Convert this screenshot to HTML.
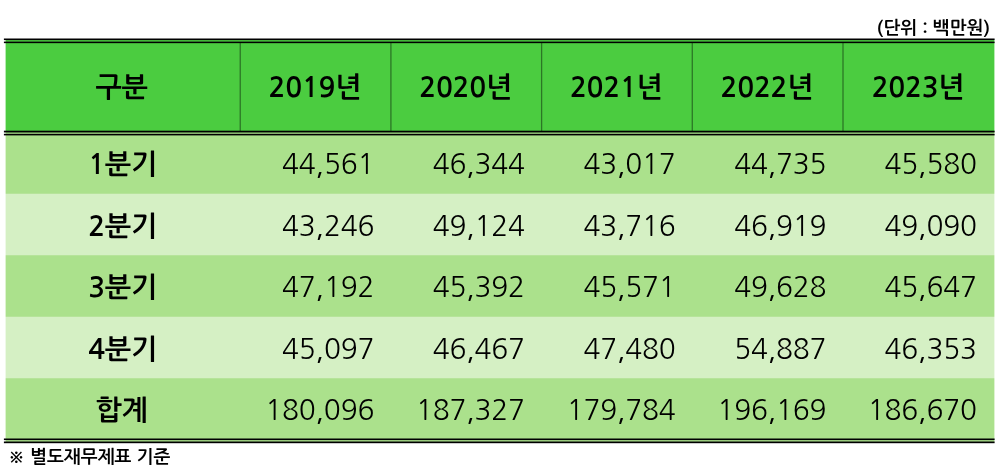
<!DOCTYPE html>
<html lang="ko">
<head>
<meta charset="utf-8">
<title>분기별 실적 (별도재무제표 기준)</title>
<style>
html,body{margin:0;padding:0;background:#fff;}
body{width:1000px;height:473px;position:relative;overflow:hidden;
 font-family:"NanumGothic","Noto Sans CJK KR","Liberation Sans",sans-serif;color:#000;}
svg.bg{position:absolute;left:0;top:0;width:1000px;height:473px;display:block;}
.txt{position:absolute;left:0;top:0;width:1000px;height:473px;will-change:transform;}
.unit{position:absolute;right:10px;top:16px;font-size:18px;font-weight:700;line-height:24px;white-space:nowrap;}
.note{position:absolute;left:8px;top:445px;font-size:18px;font-weight:700;line-height:24px;white-space:nowrap;}
table{position:absolute;left:5.6px;top:41px;width:988.8px;border-collapse:collapse;border-spacing:0;table-layout:fixed;
 font-size:28px;line-height:40px;white-space:nowrap;}
th,td{padding:0;margin:0;border:0;vertical-align:middle;overflow:visible;}
thead th{height:91.25px;font-weight:700;text-align:center;letter-spacing:-0.3px;padding-right:1.3px;}
thead th:first-child{padding-right:2.7px;}
tbody th{font-weight:700;text-align:center;letter-spacing:-0.3px;padding-top:2px;padding-right:0.7px;}
tbody tr:last-child th{padding-right:2.7px;}
tbody td{height:59.5px;font-weight:400;text-align:right;letter-spacing:-0.2px;padding-top:2px;padding-right:16.7px;}
tbody td:last-child{padding-right:17.7px;}
</style>
</head>
<body>
<svg class="bg" width="1000" height="473" viewBox="0 0 1000 473" aria-hidden="true">
<rect x="0" y="30" width="1000" height="420" fill="#abe18c"/>
<rect x="0" y="30" width="1000" height="102.25" fill="#4bcc40"/>
<rect x="0" y="193.75" width="1000" height="61.50" fill="#d5f0c4"/>
<rect x="0" y="316.75" width="1000" height="61.50" fill="#d5f0c4"/>
<rect x="0" y="0" width="1000" height="39.6" fill="#fff"/>
<rect x="0" y="442.4" width="1000" height="30.60" fill="#fff"/>
<rect x="0" y="0" width="5.6" height="473" fill="#fff"/>
<rect x="994.4" y="0" width="5.60" height="473" fill="#fff"/>
<rect x="239.59" y="43" width="1.3" height="88" fill="#000" fill-opacity="0.42"/>
<rect x="390.25" y="43" width="1.3" height="88" fill="#000" fill-opacity="0.42"/>
<rect x="540.95" y="43" width="1.3" height="88" fill="#000" fill-opacity="0.42"/>
<rect x="691.63" y="43" width="1.3" height="88" fill="#000" fill-opacity="0.42"/>
<rect x="842.35" y="43" width="1.3" height="88" fill="#000" fill-opacity="0.42"/>
<rect x="3.9" y="38.5" width="990.70" height="1.6" fill="#000"/>
<rect x="3.9" y="41.6" width="990.70" height="1.55" fill="#000"/>
<rect x="3.9" y="130.7" width="990.70" height="1.75" fill="#000"/>
<rect x="3.9" y="133.8" width="990.70" height="1.6" fill="#000"/>
<rect x="3.9" y="438.5" width="990.70" height="1.6" fill="#000"/>
<rect x="3.9" y="441.5" width="990.70" height="1.7" fill="#000"/>
</svg>
<div class="txt">
<div class="unit">(단위 : 백만원)</div>
<table>
<colgroup><col style="width:234.64px"><col style="width:150.66px"><col style="width:150.70px"><col style="width:150.68px"><col style="width:150.72px"><col style="width:151.40px"></colgroup>
<thead><tr><th scope="col">구분</th><th scope="col">2019년</th><th scope="col">2020년</th><th scope="col">2021년</th><th scope="col">2022년</th><th scope="col">2023년</th></tr></thead>
<tbody>
<tr><th scope="row">1분기</th><td>44,561</td><td>46,344</td><td>43,017</td><td>44,735</td><td>45,580</td></tr>
<tr><th scope="row">2분기</th><td>43,246</td><td>49,124</td><td>43,716</td><td>46,919</td><td>49,090</td></tr>
<tr><th scope="row">3분기</th><td>47,192</td><td>45,392</td><td>45,571</td><td>49,628</td><td>45,647</td></tr>
<tr><th scope="row">4분기</th><td>45,097</td><td>46,467</td><td>47,480</td><td>54,887</td><td>46,353</td></tr>
<tr><th scope="row">합계</th><td>180,096</td><td>187,327</td><td>179,784</td><td>196,169</td><td>186,670</td></tr>
</tbody>
</table>
<div class="note">※ 별도재무제표 기준</div>
</div>
</body>
</html>
